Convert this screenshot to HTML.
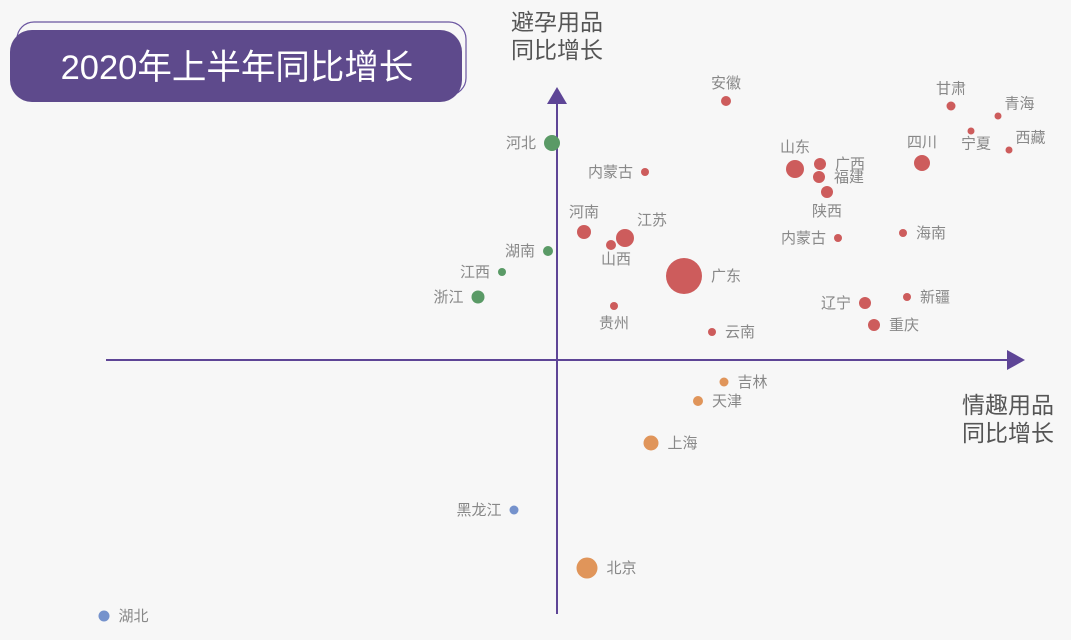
<!DOCTYPE html>
<html><head><meta charset="utf-8">
<style>
html,body{margin:0;padding:0;background:#f7f7f7;}
svg{display:block;font-family:"Liberation Sans","Noto Sans CJK SC",sans-serif;}
</style></head>
<body>
<svg id="chart" width="1071" height="640" viewBox="0 0 1071 640">
  <rect x="0" y="0" width="1071" height="640" fill="#f7f7f7"/>
  <g>
    <rect x="17" y="22" width="449" height="73" rx="17" fill="#f7f7f7" stroke="#6a55a0" stroke-width="1.2"/>
    <rect x="10" y="30" width="452" height="72" rx="22" fill="#5e4a8c"/>
    <text x="237" y="79" text-anchor="middle" font-size="34.5" fill="#ffffff">2020年上半年同比增长</text>
  </g>
  <g id="axes"></g>
  <g>
    <text x="511" y="30" font-size="23" fill="#555">避孕用品</text>
    <text x="511" y="58" font-size="23" fill="#555">同比增长</text>
  </g>
  <g>
    <text x="962" y="413" font-size="23" fill="#555">情趣用品</text>
    <text x="962" y="441" font-size="23" fill="#555">同比增长</text>
  </g>
  <g id="points"></g>
</svg>
<script>
const names = ["安徽","甘肃","青海","宁夏","西藏","四川","山东","广西","福建","陕西","内蒙古","内蒙古","海南","河南","江苏","山西","广东","新疆","辽宁","重庆","贵州","云南","河北","湖南","江西","浙江","吉林","天津","上海","北京","黑龙江","湖北"];
const xValues = [16.9,39.4,44.1,41.4,45.2,36.5,23.8,26.3,26.2,27.0,8.8,28.1,34.6,2.7,6.8,5.4,12.7,35.0,30.8,31.7,5.7,15.5,-0.5,-0.9,-5.5,-7.9,16.7,14.1,9.4,3.0,-4.3,-45.3];
const yValues = [25.9,25.4,24.4,22.9,21.0,19.7,19.1,19.6,18.3,16.8,18.8,12.2,12.7,12.8,12.2,11.5,8.4,6.3,5.7,3.5,5.4,2.8,21.7,10.9,8.8,6.3,-2.2,-4.1,-8.3,-20.8,-15.0,-25.6];
const sizes = [5,4.5,3.5,3.5,3.5,8,9,6,6,6,4,4,4,7,9,5,18,4,6,6,4,4,8,5,4,6.5,4.5,5,7.5,10.5,4.5,5.5];
const groups = ["r","r","r","r","r","r","r","r","r","r","r","r","r","r","r","r","r","r","r","r","r","r","g","g","g","g","o","o","o","o","b","b"];
const labelSide = ["t","t","tr","bl","tr","t","t","r","r","b","l","l","r","t","tr","bl","r","r","l","r","b","r","l","l","l","l","r","r","r","r","l","r"];

const ox = 557, oy = 360, k = 10;
function xs(v){ return ox + v*k; }
function ys(v){ return oy - v*k; }
const colors = {r:"#cd5c5c", g:"#5a9a66", o:"#e0955a", b:"#7592cc"};
const NS = "http://www.w3.org/2000/svg";

const axes = document.getElementById("axes");
function mk(tag, attrs, parent){ const e=document.createElementNS(NS,tag); for(const a in attrs) e.setAttribute(a,attrs[a]); parent.appendChild(e); return e; }
const xl = mk("line",{x1:106,y1:oy,x2:1010,y2:oy,stroke:"#5e4596","stroke-width":2},axes);


const xa = mk("polygon",{points:"1007,350 1025,360 1007,370",fill:"#5e4596"},axes);


const yl = mk("line",{x1:ox,y1:614,x2:ox,y2:100,stroke:"#5e4596","stroke-width":2},axes);


const ya = mk("polygon",{points:"547,104 557,87 567,104",fill:"#5e4596"},axes);



const pts = document.getElementById("points");
for(let i=0;i<names.length;i++){
  const cx = xs(xValues[i]), cy = ys(yValues[i]), r = sizes[i];
  const g = mk("g",{},pts);
  
  
  const c = mk("circle",{cx:cx,cy:cy,r:r,fill:colors[groups[i]]},g);
  
  
  let tx=cx, ty=cy+5, anchor="middle";
  const s = labelSide[i];
  if(s==="r"){ tx=cx+r+9; anchor="start"; }
  else if(s==="l"){ tx=cx-r-8; anchor="end"; }
  else if(s==="t"){ ty=cy-r-8; }
  else if(s==="b"){ ty=cy+r+18; }
  else if(s==="tr"){ tx=cx+r+3; ty=cy-r-4; anchor="start"; }
  else if(s==="bl"){ tx=cx+5; ty=cy+r+14; }
  const t = mk("text",{x:tx,y:ty,"text-anchor":anchor,"font-size":15,fill:"#888"},g);
  t.textContent = names[i];
  
  
}
</script>
</body></html>
